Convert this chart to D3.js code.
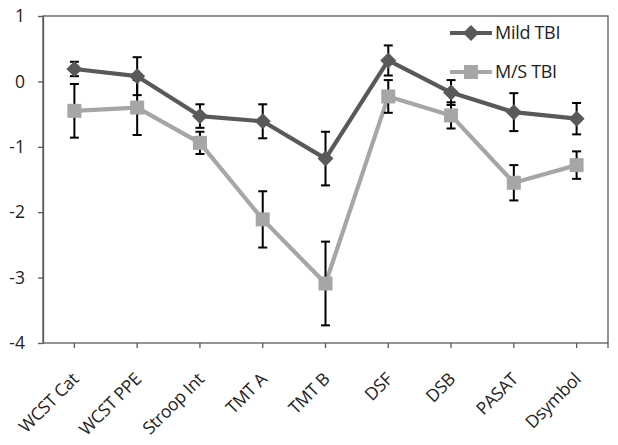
<!DOCTYPE html>
<html><head><meta charset="utf-8">
<script src="https://cdn.jsdelivr.net/npm/d3@7"></script>
<style>body{margin:0;background:#fff}svg{display:block}text{font-family:"Open Sans",sans-serif}</style>
</head><body><svg id="c" width="618" height="445"></svg>
<script>
const categories = ["WCST Cat","WCST PPE","Stroop Int","TMT A","TMT B","DSF","DSB","PASAT","Dsymbol"];
const mildValues = [0.19, 0.08, -0.53, -0.61, -1.18, 0.32, -0.17, -0.47, -0.57];
const mildErrors = [0.11, 0.29, 0.18, 0.26, 0.41, 0.23, 0.19, 0.29, 0.24];
const msValues = [-0.45, -0.40, -0.94, -2.11, -3.09, -0.23, -0.52, -1.55, -1.28];
const msErrors = [0.41, 0.42, 0.17, 0.43, 0.64, 0.25, 0.20, 0.27, 0.21];
const yTicks = [1, 0, -1, -2, -3, -4];
const seriesNames = ["Mild TBI", "M/S TBI"];

const svg = d3.select("#c");
const L = 43, R = 608, T = 16, B = 343;
const x = d3.scaleBand().domain(categories).range([L, R]);
const y = d3.scaleLinear().domain([-4, 1]).range([B, T]);
const axisColor = "#595959";

// frame
svg.append("rect").attr("x", L).attr("y", T).attr("width", R - L).attr("height", B - T)
  .attr("fill", "none").attr("stroke", axisColor).attr("stroke-width", 1.3);

// y axis
const ya = svg.append("g").attr("transform", `translate(${L},0)`)
  .call(d3.axisLeft(y).tickValues(yTicks).tickFormat(d3.format("d")).tickSize(5).tickSizeOuter(0));
ya.select(".domain").attr("stroke", axisColor).attr("stroke-width", 1.3);
ya.selectAll(".tick line").attr("stroke", axisColor).attr("stroke-width", 1.3);
ya.selectAll(".tick text").attr("font-size", 17.5).attr("fill", "#222").attr("x", -18)
  .text(d => d < 0 ? "-" + Math.abs(d) : d);

// x axis ticks at category centers
const xa = svg.append("g").attr("transform", `translate(0,${B})`);
xa.selectAll("line.t").data(categories).join("line")
  .attr("x1", d => x(d) + x.bandwidth() / 2).attr("x2", d => x(d) + x.bandwidth() / 2)
  .attr("y1", 0).attr("y2", 5).attr("stroke", axisColor).attr("stroke-width", 1.3);
xa.append("line").attr("x1", R).attr("x2", R).attr("y1", 0).attr("y2", 5)
  .attr("stroke", axisColor).attr("stroke-width", 1.3);
xa.selectAll("text").data(categories).join("text")
  .attr("transform", d => `translate(${x(d) + x.bandwidth() / 2 + 1},${33}) rotate(-45)`)
  .attr("text-anchor", "end").attr("font-size", 17.5).attr("fill", "#222")
  .attr("letter-spacing", -0.3)
  .attr("dy", "0.35em").text(d => d);

const cx = d => x(d) + x.bandwidth() / 2;
const series = [
  {name: seriesNames[0], vals: mildValues, errs: mildErrors, color: "#595959", shape: "diamond"},
  {name: seriesNames[1], vals: msValues, errs: msErrors, color: "#a6a6a6", shape: "square"}
];

function marker(g, shape, color, px, py) {
  if (shape === "diamond") {
    g.append("path").attr("d", `M${px},${py - 8}L${px + 8},${py}L${px},${py + 8}L${px - 8},${py}Z`).attr("fill", color);
  } else {
    g.append("rect").attr("x", px - 7).attr("y", py - 7).attr("width", 14).attr("height", 14).attr("fill", color);
  }
}

[series[1], series[0]].forEach(s => {
  const g = svg.append("g");
  const data = categories.map((c, i) => ({c, v: s.vals[i], e: s.errs[i]}));
  g.append("path").datum(data).attr("fill", "none").attr("stroke", s.color).attr("stroke-width", 4.2)
    .attr("stroke-linejoin", "round")
    .attr("d", d3.line().x(d => cx(d.c)).y(d => y(d.v)));
  data.forEach(d => {
    const px = cx(d.c);
    const eg = g.append("g").attr("stroke", "#000").attr("stroke-width", 2);
    eg.append("line").attr("x1", px).attr("x2", px).attr("y1", y(d.v + d.e)).attr("y2", y(d.v - d.e));
    eg.append("line").attr("x1", px - 4.5).attr("x2", px + 4.5).attr("y1", y(d.v + d.e)).attr("y2", y(d.v + d.e));
    eg.append("line").attr("x1", px - 4.5).attr("x2", px + 4.5).attr("y1", y(d.v - d.e)).attr("y2", y(d.v - d.e));
  });
  data.forEach(d => marker(g, s.shape, s.color, cx(d.c), y(d.v)));
});

// legend
const lg = svg.append("g");
series.forEach((s, i) => {
  const ly = 33 + i * 39;
  lg.append("line").attr("x1", 450).attr("x2", 492).attr("y1", ly).attr("y2", ly)
    .attr("stroke", s.color).attr("stroke-width", 4.2);
  marker(lg, s.shape, s.color, 471, ly);
  lg.append("text").attr("x", 495).attr("y", ly).attr("dy", "0.35em")
    .attr("font-size", 18).attr("fill", "#222").attr("letter-spacing", -0.3).text(s.name);
});
</script></body></html>
